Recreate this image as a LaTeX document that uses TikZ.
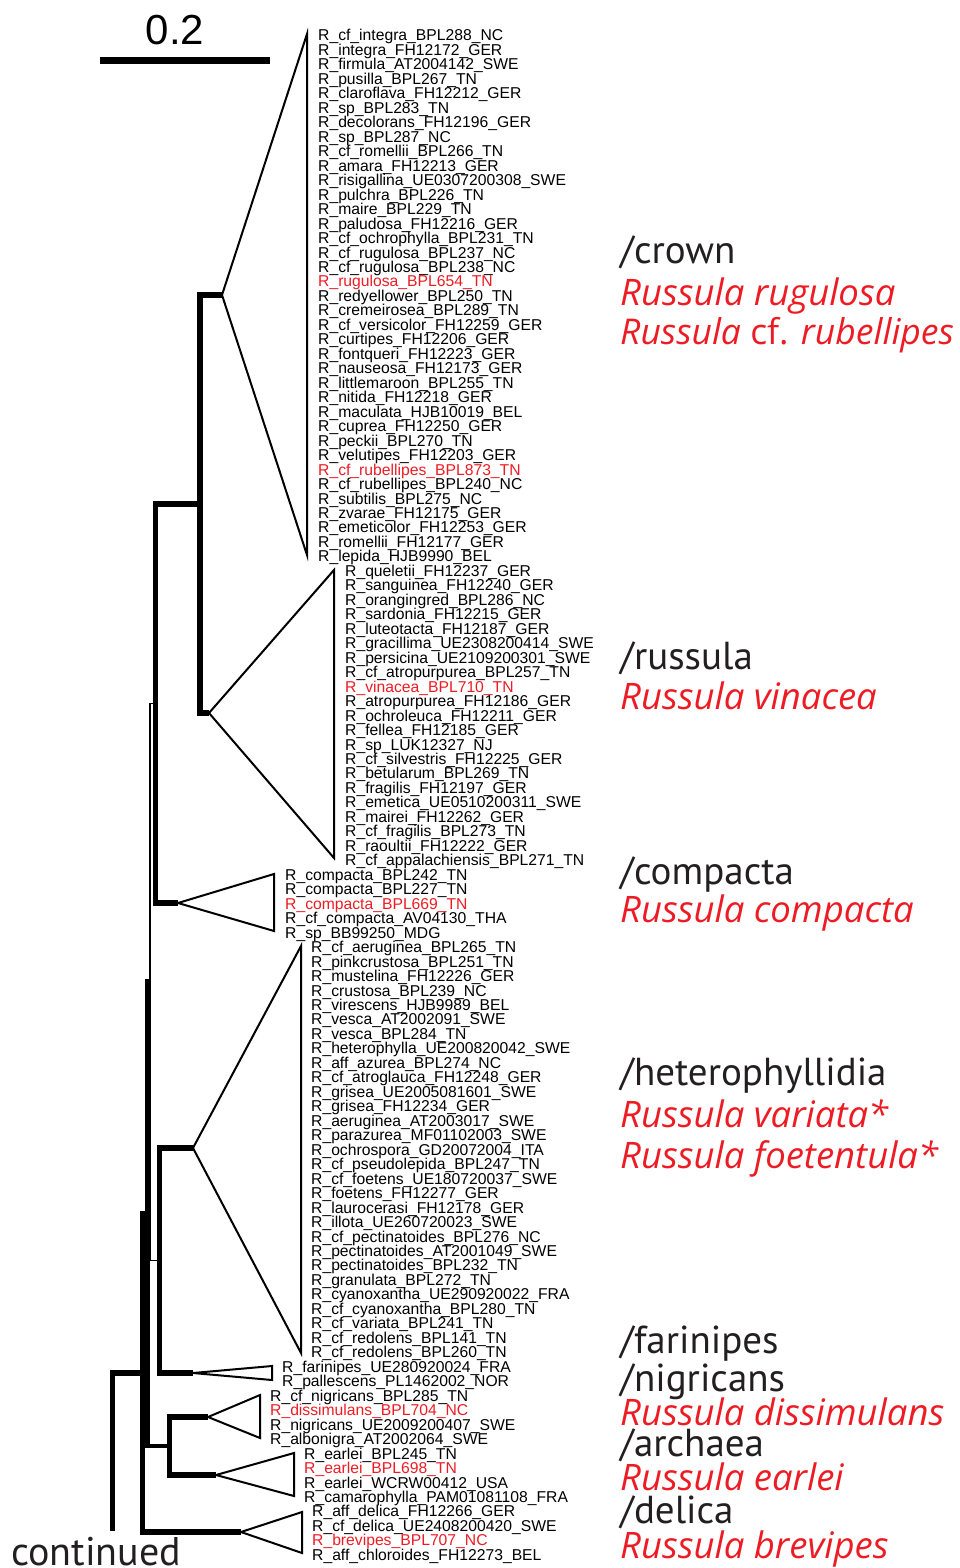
\documentclass[tikz,border=0pt]{standalone}
\usepackage{fontspec}
\setmainfont{Liberation Sans}
\newfontfamily\cladefont{PT Sans}
\newfontfamily\especefont{Open Sans}
\definecolor{gris}{RGB}{35,31,32}
\definecolor{rouge}{RGB}{237,28,36}
\newcommand{\enrouge}[1]{\textcolor{rouge}{#1}}
\tikzset{
  lab/.style={anchor=base west, inner sep=0pt, font=\fontsize{15.7}{16}\selectfont},
  clade/.style={anchor=base west, inner sep=0pt, text=gris, font=\cladefont\fontsize{39}{41}\selectfont},
  espece/.style={clade, text=rouge, font=\especefont\itshape\fontsize{36.5}{40}\selectfont},
  branche/.style={line width=5.5pt, line join=miter},
  fin/.style={line width=1.3pt},
  tri/.style={line width=2pt, line join=miter, fill=white},
}
\catcode`\_=12
\begin{document}
\begin{tikzpicture}[x=1pt,y=-1pt]
  \useasboundingbox (0,0) rectangle (959,1568);

  % Echelle
  \coordinate (eA) at (100,60.5);
  \coordinate (eB) at (270,60.5);
  \draw[line width=7pt] (eA) -- (eB);
  \node[anchor=base, inner sep=0pt, font=\fontsize{42}{44}\selectfont] (ech) at (175,45) {0.2};

  % Sommets des triangles
  \coordinate (crownA) at (222,295);   \coordinate (crownH) at (307,34);   \coordinate (crownB) at (307,555);
  \coordinate (russA) at (209,713);    \coordinate (russH) at (334,570);   \coordinate (russB) at (334,858);
  \coordinate (compA) at (178,903);    \coordinate (compH) at (274,874);   \coordinate (compB) at (274,931);
  \coordinate (hetA) at (193,1148);    \coordinate (hetH) at (301,946);    \coordinate (hetB) at (301,1353);
  \coordinate (farA) at (193,1373);    \coordinate (farH) at (272,1366);   \coordinate (farB) at (272,1380);
  \coordinate (nigA) at (208,1417);    \coordinate (nigH) at (260,1395);   \coordinate (nigB) at (260,1438);
  \coordinate (archA) at (216,1475);   \coordinate (archH) at (294,1453);  \coordinate (archB) at (294,1496);
  \coordinate (delA) at (241,1532);    \coordinate (delH) at (302,1512);   \coordinate (delB) at (302,1553);

  % Noeuds internes
  \coordinate (n1) at (200,504);
  \coordinate (n2) at (155.5,703.5);
  \coordinate (n3) at (150,982);
  \coordinate (n5) at (159.5,1260.5);
  \coordinate (n6) at (169.5,1446);
  \coordinate (n4) at (147.5,1214);
  \coordinate (n7) at (142.5,1373);
  \coordinate (suite) at (112.5,1531);

  % Branches
  \draw[fin] (n3) |- (n2);
  \draw[fin] (n3) |- (n5);
  \draw[branche] (n1) |- (crownA);
  \draw[branche] (n1) |- (russA);
  \draw[branche] (n2) |- (n1);
  \draw[branche] (n2) |- (compA);
  \draw[branche] (n5) |- (hetA);
  \draw[branche] (n5) |- (farA);
  \draw[branche] (n6) |- (nigA);
  \draw[branche] (n6) |- (archA);
  \draw[branche] (n4) |- (n3);
  \draw[line width=4.5pt] (n4) |- (n6);
  \draw[branche] (n7) |- (n4);
  \draw[branche] (n7) |- (delA);
  \draw[branche] (suite) |- (n7);

  % Triangles
  \draw[tri] (crownA) -- (crownH) -- (crownB) -- cycle;
  \draw[tri] (russA) -- (russH) -- (russB) -- cycle;
  \draw[tri] (compA) -- (compH) -- (compB) -- cycle;
  \draw[tri] (hetA) -- (hetH) -- (hetB) -- cycle;
  \draw[tri] (farA) -- (farH) -- (farB) -- cycle;
  \draw[tri] (nigA) -- (nigH) -- (nigB) -- cycle;
  \draw[tri] (archA) -- (archH) -- (archB) -- cycle;
  \draw[tri] (delA) -- (delH) -- (delB) -- cycle;

  % Etiquettes
  \foreach \nom [count=\k from 0] in {R_cf_integra_BPL288_NC, R_integra_FH12172_GER, R_firmula_AT2004142_SWE,
    R_pusilla_BPL267_TN, R_claroflava_FH12212_GER, R_sp_BPL283_TN, R_decolorans_FH12196_GER, R_sp_BPL287_NC,
    R_cf_romellii_BPL266_TN, R_amara_FH12213_GER, R_risigallina_UE0307200308_SWE, R_pulchra_BPL226_TN,
    R_maire_BPL229_TN, R_paludosa_FH12216_GER, R_cf_ochrophylla_BPL231_TN, R_cf_rugulosa_BPL237_NC,
    R_cf_rugulosa_BPL238_NC, \enrouge{R_rugulosa_BPL654_TN}, R_redyellower_BPL250_TN, R_cremeirosea_BPL289_TN,
    R_cf_versicolor_FH12259_GER, R_curtipes_FH12206_GER, R_fontqueri_FH12223_GER, R_nauseosa_FH12173_GER,
    R_littlemaroon_BPL255_TN, R_nitida_FH12218_GER, R_maculata_HJB10019_BEL, R_cuprea_FH12250_GER,
    R_peckii_BPL270_TN, R_velutipes_FH12203_GER, \enrouge{R_cf_rubellipes_BPL873_TN}, R_cf_rubellipes_BPL240_NC,
    R_subtilis_BPL275_NC, R_zvarae_FH12175_GER, R_emeticolor_FH12253_GER, R_romellii_FH12177_GER,
    R_lepida_HJB9990_BEL}
    \node[lab] (t\k) at (318,{41+\k*14.47}) {\nom};
  \foreach \nom [count=\k from 37] in {R_queletii_FH12237_GER, R_sanguinea_FH12240_GER, R_orangingred_BPL286_NC,
    R_sardonia_FH12215_GER, R_luteotacta_FH12187_GER, R_gracillima_UE2308200414_SWE, R_persicina_UE2109200301_SWE,
    R_cf_atropurpurea_BPL257_TN, \enrouge{R_vinacea_BPL710_TN}, R_atropurpurea_FH12186_GER, R_ochroleuca_FH12211_GER,
    R_fellea_FH12185_GER, R_sp_LUK12327_NJ, R_cf_silvestris_FH12225_GER, R_betularum_BPL269_TN,
    R_fragilis_FH12197_GER, R_emetica_UE0510200311_SWE, R_mairei_FH12262_GER, R_cf_fragilis_BPL273_TN,
    R_raoultii_FH12222_GER, R_cf_appalachiensis_BPL271_TN}
    \node[lab] (t\k) at (345,{41+\k*14.47}) {\nom};
  \foreach \nom [count=\k from 58] in {R_compacta_BPL242_TN, R_compacta_BPL227_TN, \enrouge{R_compacta_BPL669_TN},
    R_cf_compacta_AV04130_THA, R_sp_BB99250_MDG}
    \node[lab] (t\k) at (285,{41+\k*14.47}) {\nom};
  \foreach \nom [count=\k from 63] in {R_cf_aeruginea_BPL265_TN, R_pinkcrustosa_BPL251_TN, R_mustelina_FH12226_GER,
    R_crustosa_BPL239_NC, R_virescens_HJB9989_BEL, R_vesca_AT2002091_SWE, R_vesca_BPL284_TN,
    R_heterophylla_UE200820042_SWE, R_aff_azurea_BPL274_NC, R_cf_atroglauca_FH12248_GER, R_grisea_UE2005081601_SWE,
    R_grisea_FH12234_GER, R_aeruginea_AT2003017_SWE, R_parazurea_MF01102003_SWE, R_ochrospora_GD20072004_ITA,
    R_cf_pseudolepida_BPL247_TN, R_cf_foetens_UE180720037_SWE, R_foetens_FH12277_GER, R_laurocerasi_FH12178_GER,
    R_illota_UE260720023_SWE, R_cf_pectinatoides_BPL276_NC, R_pectinatoides_AT2001049_SWE,
    R_pectinatoides_BPL232_TN, R_granulata_BPL272_TN, R_cyanoxantha_UE290920022_FRA, R_cf_cyanoxantha_BPL280_TN,
    R_cf_variata_BPL241_TN, R_cf_redolens_BPL141_TN, R_cf_redolens_BPL260_TN}
    \node[lab] (t\k) at (311,{41+\k*14.47}) {\nom};
  \foreach \nom [count=\k from 92] in {R_farinipes_UE280920024_FRA, R_pallescens_PL1462002_NOR}
    \node[lab] (t\k) at (282,{41+\k*14.47}) {\nom};
  \foreach \nom [count=\k from 94] in {R_cf_nigricans_BPL285_TN, \enrouge{R_dissimulans_BPL704_NC},
    R_nigricans_UE2009200407_SWE, R_albonigra_AT2002064_SWE}
    \node[lab] (t\k) at (270,{41+\k*14.47}) {\nom};
  \foreach \nom [count=\k from 98] in {R_earlei_BPL245_TN, \enrouge{R_earlei_BPL698_TN}, R_earlei_WCRW00412_USA,
    R_camarophylla_PAM01081108_FRA}
    \node[lab] (t\k) at (304,{41+\k*14.47}) {\nom};
  \foreach \nom [count=\k from 102] in {R_aff_delica_FH12266_GER, R_cf_delica_UE2408200420_SWE,
    \enrouge{R_brevipes_BPL707_NC}, R_aff_chloroides_FH12273_BEL}
    \node[lab] (t\k) at (312,{41+\k*14.47}) {\nom};

  % Noms des clades
  \node[clade] (cCrown) at (620,263) {/crown};
  \node[espece] (sRugulosa) at (620,305) {Russula rugulosa};
  \node[espece, font=\especefont\itshape\fontsize{35.5}{40}\selectfont] (sRubellipes) at (620,344)
    {Russula {\upshape cf.} rubellipes};
  \node[clade] (cRussula) at (620,669) {/russula};
  \node[espece] (sVinacea) at (620,709) {Russula vinacea};
  \node[clade] (cCompacta) at (620,884) {/compacta};
  \node[espece] (sCompacta) at (620,922) {Russula compacta};
  \node[clade] (cHetero) at (620,1085) {/heterophyllidia};
  \node[espece] (sVariata) at (620,1127) {Russula variata*};
  \node[espece] (sFoetentula) at (620,1168) {Russula foetentula*};
  \node[clade] (cFarinipes) at (620,1353) {/farinipes};
  \node[clade] (cNigricans) at (620,1391) {/nigricans};
  \node[espece] (sDissimulans) at (620,1425) {Russula dissimulans};
  \node[clade] (cArchaea) at (620,1456) {/archaea};
  \node[espece] (sEarlei) at (620,1490) {Russula earlei};
  \node[clade] (cDelica) at (620,1523) {/delica};
  \node[espece] (sBrevipes) at (620,1558) {Russula brevipes};
  \node[clade, font=\cladefont\fontsize{40}{42}\selectfont] (cSuite) at (11,1565) {continued};
\end{tikzpicture}
\end{document}
